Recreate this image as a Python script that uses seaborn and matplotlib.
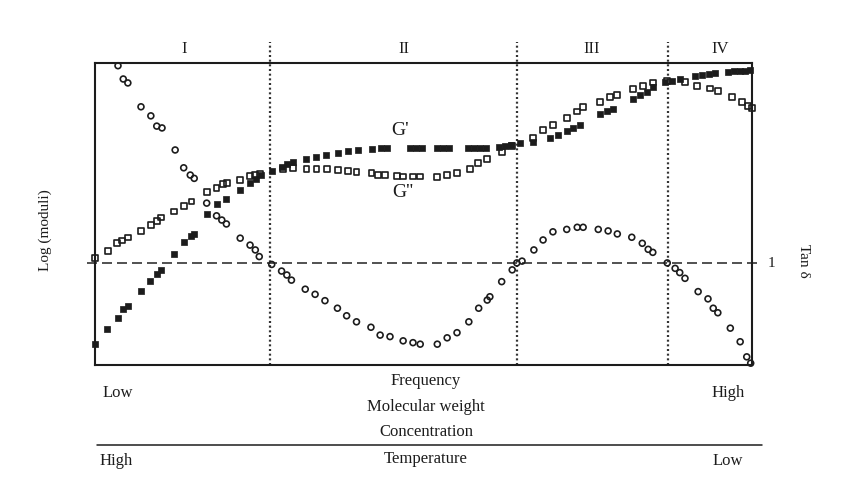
import numpy as np
import pandas as pd
import matplotlib
matplotlib.use("Agg")
import matplotlib.pyplot as plt
from matplotlib.lines import Line2D
import seaborn as sns

# ---- data (arbitrary log units, x: frequency 0-100, y: log moduli 0-100) ----
g1_x = [0, 1.9, 3.5, 4.3, 5.0, 7.0, 8.4, 9.4, 10.0, 12.0, 13.5, 14.6, 15.1, 17.0,
        18.6, 19.9, 22.1, 23.6, 24.5, 25.2, 27.0, 28.4, 29.2, 30.1, 32.1, 33.6,
        35.2, 37.0, 38.5, 40.0, 42.1, 43.5, 44.4, 48.0, 48.9, 49.8, 52.1, 53.0,
        53.9, 56.8, 57.7, 58.6, 59.5, 61.5, 62.4, 63.3, 64.7, 66.7, 69.3, 70.4,
        71.8, 72.8, 73.8, 76.9, 77.9, 78.8, 81.9, 83.0, 84.0, 84.9, 86.8, 87.8,
        89.0, 91.4, 92.4, 93.5, 94.4, 96.3, 97.2, 98.1, 99.0, 99.7]
g1_y = [7.0, 11.9, 15.6, 18.5, 19.5, 24.6, 27.9, 30.1, 31.5, 36.8, 40.7, 42.7, 43.4, 50.0,
        53.3, 55.0, 57.9, 60.3, 61.6, 62.9, 64.2, 65.6, 66.6, 67.2, 68.2, 69.0,
        69.6, 70.2, 70.9, 71.2, 71.5, 71.8, 71.8, 71.9, 71.9, 71.9, 71.9, 71.9,
        71.9, 71.9, 71.9, 72.0, 72.0, 72.3, 72.6, 73.0, 73.5, 73.9, 75.2, 76.2,
        77.5, 78.5, 79.5, 83.1, 84.0, 84.8, 88.1, 89.4, 90.5, 92.2, 93.8, 94.2,
        94.6, 95.7, 96.0, 96.4, 96.6, 97.0, 97.2, 97.4, 97.5, 97.6]

g2_x = [0, 2.0, 3.3, 4.1, 5.0, 7.0, 8.5, 9.4, 10.0, 12.0, 13.5, 14.7, 17.0, 18.5,
        19.5, 20.1, 22.1, 23.6, 24.4, 25.1, 28.6, 30.1, 32.2, 33.7, 35.3, 37.0,
        38.5, 39.8, 42.1, 43.1, 44.1, 46.0, 46.9, 48.4, 49.5, 52.1, 53.6, 55.1,
        57.1, 58.3, 59.7, 61.9, 63.5, 66.7, 68.2, 69.7, 71.8, 73.4, 74.3, 76.9,
        78.4, 79.5, 81.9, 83.4, 84.9, 87.1, 89.8, 91.6, 93.6, 94.8, 97.0, 98.5,
        99.4, 100.0]
g2_y = [35.4, 37.8, 40.4, 41.2, 42.2, 44.4, 46.4, 47.7, 48.8, 50.8, 52.6, 54.1, 57.3, 58.6,
        59.9, 60.3, 61.3, 62.6, 62.9, 63.2, 64.9, 65.2, 65.0, 65.0, 65.0, 64.6,
        64.2, 64.0, 63.6, 63.0, 62.9, 62.6, 62.4, 62.4, 62.4, 62.2, 62.8, 63.5,
        64.9, 66.9, 68.2, 70.6, 72.5, 75.2, 77.8, 79.5, 81.8, 83.9, 85.4, 87.2,
        88.7, 89.4, 91.4, 92.4, 93.5, 94.1, 93.8, 92.5, 91.6, 90.8, 88.8, 87.2,
        85.8, 85.0]

tan_x = [3.5, 4.3, 5.0, 7.0, 8.5, 9.4, 10.2, 12.2, 13.5, 14.5, 15.1, 17.0, 18.5, 19.3,
         20.0, 22.1, 23.6, 24.4, 25.0, 26.9, 28.4, 29.2, 29.9, 32.0, 33.5, 35.0,
         36.9, 38.3, 39.8, 42.0, 43.4, 44.9, 46.9, 48.4, 49.5, 52.1, 53.6, 55.1,
         56.9, 58.4, 59.7, 60.1, 61.9, 63.5, 64.2, 65.0, 66.8, 68.2, 69.7, 71.8,
         73.4, 74.3, 76.6, 78.1, 79.5, 81.7, 83.3, 84.2, 84.9, 87.1, 88.3, 89.0,
         89.8, 91.8, 93.3, 94.1, 94.8, 96.7, 98.2, 99.2, 99.8]
tan_y = [99.1, 94.7, 93.4, 85.5, 82.5, 79.1, 78.5, 71.2, 65.3, 62.9, 61.8, 53.6, 49.4, 48.0,
         46.7, 42.0, 39.7, 38.1, 35.9, 33.3, 31.1, 29.8, 28.1, 25.1, 23.4, 21.3,
         18.8, 16.3, 14.3, 12.5, 9.9, 9.4, 8.0, 7.4, 6.9, 6.9, 9.0, 10.7,
         14.3, 18.8, 21.5, 22.6, 27.6, 31.5, 33.8, 34.4, 38.1, 41.4, 44.1, 44.9,
         45.6, 45.6, 44.9, 44.4, 43.4, 42.3, 40.3, 38.3, 37.3, 33.8, 32.0, 30.6,
         28.7, 24.3, 21.9, 18.8, 17.3, 12.2, 7.7, 2.7, 0.6]

tan_one = 33.8                      # level where tan delta = 1
region_bounds = [26.6, 64.2, 87.2]  # crossover frequencies
region_labels = ["I", "II", "III", "IV"]
region_label_x = [13.5, 47.0, 75.6, 95.1]

# ---- style ----
sns.set_theme(style="white")
plt.rcParams["font.family"] = ["Liberation Serif", "DejaVu Serif"]
ink = "#1c1c1c"

fig = plt.figure(figsize=(8.47, 4.86), dpi=100, facecolor="white")
ax = fig.add_axes([95 / 847, 1 - 365 / 486, 657 / 847, 302 / 486])
ax.set_facecolor("white")
ax.set_xlim(0, 100)
ax.set_ylim(0, 100)
ax.set_xticks([])
ax.set_yticks([])
for sp in ax.spines.values():
    sp.set_visible(True)
    sp.set_color(ink)
    sp.set_linewidth(1.5)

# tan delta = 1 reference line
ax.plot([-1.2, 101.3], [tan_one, tan_one], color="#333333", lw=1.2,
        linestyle=(0, (6, 3)), clip_on=False, zorder=1)
# region boundaries
for xb in region_bounds:
    ax.plot([xb, xb], [0, 107], color="#333333", lw=1.6,
            linestyle=(0, (0.9, 1.2)), clip_on=False, zorder=1)

g1 = pd.DataFrame({"x": g1_x, "y": g1_y})
g2 = pd.DataFrame({"x": g2_x, "y": g2_y})
td = pd.DataFrame({"x": tan_x, "y": tan_y})

sns.scatterplot(data=g1, x="x", y="y", marker="s", s=17, color=ink,
                edgecolor=ink, linewidth=0.5, ax=ax, clip_on=False, zorder=3)
sns.scatterplot(data=g2, x="x", y="y", marker="s", s=17, facecolor="none",
                edgecolor=ink, linewidth=1.2, ax=ax, clip_on=False, zorder=3)
sns.scatterplot(data=td, x="x", y="y", marker="o", s=18, facecolor="none",
                edgecolor=ink, linewidth=1.2, ax=ax, clip_on=False, zorder=3)
ax.set_xlabel("")
ax.set_ylabel("")

for lab, lx in zip(region_labels, region_label_x):
    ax.text(lx, 104.5, lab, ha="center", va="center", fontsize=12, color=ink,
            clip_on=False)

ax.text(46.4, 77.8, "G'", ha="center", va="center", fontsize=14, color=ink)
ax.text(46.9, 57.0, "G''", ha="center", va="center", fontsize=14, color=ink)

# side labels
fig.text(45 / 847, 1 - 230 / 486, "Log (moduli)", rotation=90, ha="center",
         va="center", fontsize=11, color=ink)
fig.text(771 / 847, 1 - 263 / 486, "1", ha="center", va="center",
         fontsize=11, color=ink)
fig.text(803 / 847, 1 - 261 / 486, "Tan δ", rotation=270, ha="center",
         va="center", fontsize=11, color=ink)

# variable legend below the axis
cx = 426 / 847
for txt, py in [("Frequency", 381), ("Molecular weight", 407),
                ("Concentration", 432), ("Temperature", 459)]:
    fig.text(cx, 1 - py / 486, txt, ha="center", va="center", fontsize=12,
             color=ink)
fig.text(103 / 847, 1 - 393 / 486, "Low", ha="left", va="center",
         fontsize=12, color=ink)
fig.text(745 / 847, 1 - 393 / 486, "High", ha="right", va="center",
         fontsize=12, color=ink)
fig.text(100 / 847, 1 - 461 / 486, "High", ha="left", va="center",
         fontsize=12, color=ink)
fig.text(743 / 847, 1 - 461 / 486, "Low", ha="right", va="center",
         fontsize=12, color=ink)
fig.add_artist(Line2D([97 / 847, 762 / 847], [1 - 445 / 486, 1 - 445 / 486],
                      color=ink, lw=1.1))

fig.savefig("out.png", dpi=100, facecolor="white")
